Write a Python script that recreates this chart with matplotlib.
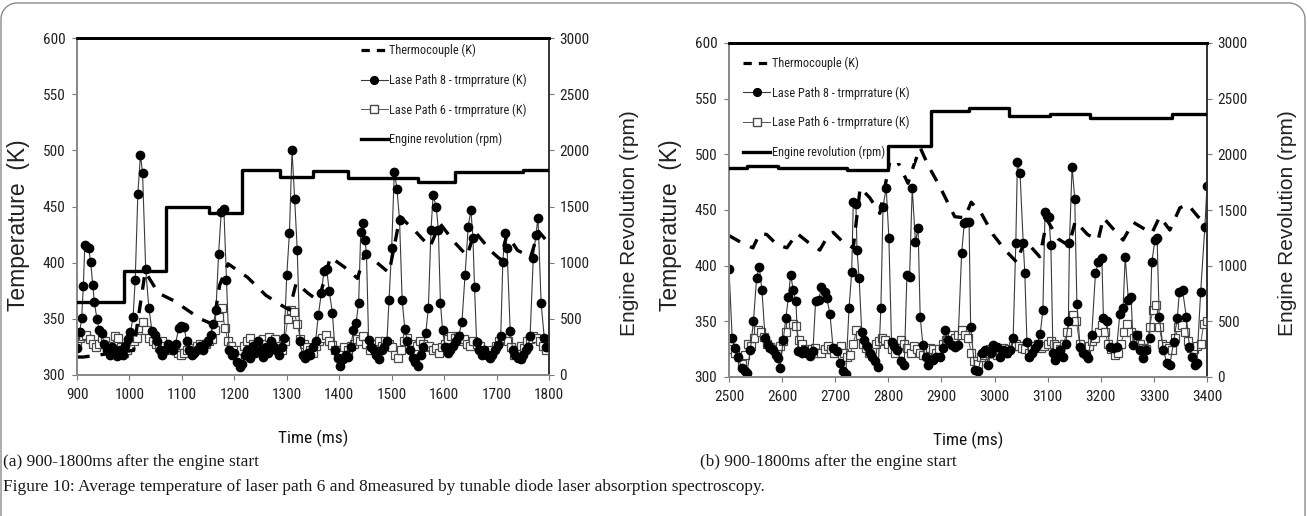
import numpy as np
import matplotlib
matplotlib.use("Agg")
import matplotlib.pyplot as plt
from matplotlib.lines import Line2D
from matplotlib import font_manager as fm
from matplotlib.font_manager import FontProperties

# ---------------- data : panel (a) ----------------
t8_a = [900, 905, 909, 912, 915, 919, 922, 926, 930, 933, 938, 942, 947, 952, 957, 962, 967, 972, 977, 982,
        987, 992, 997, 1002, 1007, 1011, 1016, 1021, 1025, 1031, 1037, 1043, 1048, 1053, 1058, 1063, 1068,
        1073, 1078, 1083, 1088, 1094, 1099, 1104, 1109, 1114, 1119, 1124, 1129, 1134, 1140, 1145, 1150, 1155,
        1160, 1165, 1170, 1175, 1180, 1185, 1190, 1195, 1200, 1205, 1210, 1215, 1220, 1225, 1230, 1235, 1240,
        1245, 1250, 1255, 1260, 1265, 1270, 1275, 1280, 1285, 1290, 1295, 1300, 1305, 1310, 1315, 1320, 1325,
        1330, 1335, 1340, 1345, 1350, 1355, 1360, 1366, 1371, 1376, 1381, 1387, 1392, 1397, 1402, 1407, 1412,
        1417, 1422, 1427, 1432, 1437, 1441, 1446, 1449, 1452, 1456, 1461, 1466, 1471, 1476, 1481, 1486, 1491,
        1495, 1500, 1505, 1510, 1515, 1520, 1525, 1530, 1535, 1540, 1545, 1550, 1555, 1560, 1565, 1570, 1575,
        1579, 1585, 1589, 1593, 1597, 1602, 1607, 1612, 1617, 1622, 1628, 1634, 1640, 1646, 1651, 1655, 1658,
        1662, 1667, 1672, 1677, 1682, 1687, 1692, 1697, 1703, 1708, 1712, 1716, 1720, 1726, 1731, 1736, 1741,
        1746, 1751, 1756, 1760, 1764, 1770, 1775, 1779, 1785, 1791, 1795, 1800]
T8_a = [324, 338, 351, 379, 416, 414, 413, 401, 380, 365, 350, 340, 337, 328, 322, 318, 325, 320, 317, 322,
        318, 326, 332, 338, 352, 385, 461, 496, 480, 394, 360, 339, 336, 330, 322, 318, 322,
        328, 325, 322, 328, 342, 344, 343, 330, 322, 318, 320, 322, 326, 322, 328, 330, 336,
        345, 358, 408, 445, 448, 385, 322, 318, 320, 312, 307, 310, 318, 322, 315, 326, 320,
        330, 322, 316, 325, 320, 330, 325, 322, 318, 325, 333, 389, 426, 500, 457, 411, 330,
        318, 315, 320, 318, 325, 330, 353, 373, 393, 394, 375, 355, 322, 315, 308, 314, 318,
        316, 325, 340, 346, 364, 427, 435, 420, 408, 331, 325, 322, 318, 314, 322, 325, 330,
        367, 413, 481, 466, 438, 367, 341, 330, 322, 315, 312, 308, 318, 325, 337, 360, 429,
        460, 450, 429, 364, 340, 325, 320, 322, 326, 330, 335, 347, 389, 432, 447, 422, 378,
        329, 322, 318, 322, 318, 315, 318, 322, 327, 335, 401, 426, 413, 339, 322, 318, 315,
        314, 318, 322, 325, 335, 404, 425, 440, 364, 333, 325, 325]

t6_a = [900, 906, 912, 918, 924, 930, 936, 942, 948, 954, 960, 966, 972, 978, 984, 990, 996, 1002, 1008, 1014,
        1020, 1026, 1032, 1038, 1044, 1050, 1056, 1062, 1068, 1074, 1080, 1086, 1092, 1098, 1104, 1110, 1116,
        1122, 1128, 1134, 1140, 1146, 1152, 1158, 1164, 1170, 1176, 1182, 1188, 1194, 1200, 1206, 1212, 1218,
        1224, 1230, 1236, 1242, 1248, 1254, 1260, 1266, 1272, 1278, 1284, 1290, 1296, 1302, 1308, 1314, 1320,
        1326, 1332, 1338, 1344, 1350, 1356, 1362, 1368, 1374, 1380, 1386, 1392, 1398, 1404, 1410, 1416, 1422,
        1428, 1434, 1440, 1446, 1452, 1458, 1464, 1470, 1476, 1482, 1488, 1494, 1500, 1506, 1512, 1518, 1524,
        1530, 1536, 1542, 1548, 1554, 1560, 1566, 1572, 1578, 1584, 1590, 1596, 1602, 1608, 1614, 1620, 1626,
        1632, 1638, 1644, 1650, 1656, 1662, 1668, 1674, 1680, 1686, 1692, 1698, 1704, 1710, 1716, 1722, 1728,
        1734, 1740, 1746, 1752, 1758, 1764, 1770, 1776, 1782, 1788, 1794, 1800]
T6_a = [330, 333, 335, 336, 332, 328, 325, 328, 333, 330, 326, 322, 335, 333, 325, 320, 322, 325, 330, 333,
        342, 347, 340, 333, 330, 328, 325, 330, 326, 322, 325, 322, 320, 318, 320, 322, 324,
        322, 326, 328, 325, 328, 330, 332, 340, 352, 360, 342, 330, 326, 322, 318, 322, 326,
        330, 333, 328, 326, 330, 332, 328, 334, 330, 332, 326, 322, 330, 350, 358, 356, 345,
        332, 328, 325, 322, 320, 326, 330, 333, 336, 330, 327, 322, 320, 322, 325, 322, 326,
        328, 332, 330, 335, 328, 322, 325, 328, 330, 326, 330, 328, 325, 318, 315, 322, 330,
        333, 328, 322, 326, 330, 328, 325, 326, 322, 324, 320, 325, 328, 332, 335, 333, 335,
        330, 332, 328, 326, 330, 328, 326, 322, 320, 318, 322, 326, 330, 332, 333, 330, 325,
        318, 322, 326, 324, 330, 332, 335, 333, 330, 326, 322, 325]

tc_t_a = [900, 912, 1008, 1015, 1030, 1055, 1085, 1110, 1135, 1160, 1172, 1188, 1225, 1260, 1290, 1305, 1318,
          1340, 1360, 1372, 1383, 1410, 1435, 1449, 1472, 1495, 1516, 1545, 1573, 1592, 1620, 1644, 1658,
          1690, 1707, 1720, 1740, 1765, 1780, 1800]
tc_T_a = [316, 316, 322, 345, 392, 373, 366, 358, 350, 345, 380, 399, 387, 371, 362, 358, 382,
          373, 366, 385, 405, 396, 386, 409, 400, 391, 441, 428, 414, 435, 418, 406, 428,
          410, 403, 425, 411, 405, 428, 417]

eng_t_a = [900, 990, 1070, 1152, 1215, 1287, 1350, 1417, 1551, 1621, 1751, 1800]
eng_rpm_a = [650, 930, 1500, 1445, 1825, 1765, 1815, 1755, 1720, 1808, 1828, 1828]

# ---------------- data : panel (b) ----------------
t8_b = [2500, 2506, 2511, 2517, 2524, 2530, 2534, 2540, 2546, 2552, 2557, 2562, 2568, 2573, 2578, 2583, 2588,
        2592, 2596, 2602, 2607, 2612, 2616, 2621, 2626, 2630, 2637, 2642, 2646, 2652, 2658, 2663, 2669, 2674,
        2680, 2684, 2690, 2696, 2703, 2709, 2715, 2720, 2726, 2731, 2734, 2739, 2741, 2745, 2750, 2755, 2760,
        2765, 2770, 2775, 2781, 2786, 2790, 2796, 2801, 2806, 2811, 2816, 2824, 2830, 2835, 2840, 2845, 2851,
        2856, 2860, 2865, 2870, 2875, 2880, 2884, 2890, 2897, 2902, 2906, 2913, 2919, 2925, 2931, 2938, 2943,
        2947, 2952, 2955, 2963, 2969, 2976, 2982, 2988, 2993, 2998, 3004, 3010, 3016, 3023, 3029, 3035, 3040,
        3043, 3048, 3054, 3057, 3061, 3065, 3070, 3076, 3081, 3086, 3091, 3095, 3099, 3102, 3106, 3110, 3114,
        3118, 3123, 3129, 3134, 3139, 3141, 3146, 3151, 3155, 3161, 3167, 3172, 3176, 3183, 3190, 3195, 3202,
        3205, 3211, 3217, 3223, 3230, 3236, 3242, 3246, 3252, 3257, 3261, 3268, 3274, 3280, 3286, 3292, 3296,
        3302, 3306, 3310, 3318, 3324, 3330, 3337, 3344, 3348, 3354, 3361, 3367, 3372, 3377, 3381, 3388, 3396,
        3400]
T8_b = [397, 335, 326, 318, 308, 305, 304, 324, 350, 389, 399, 378, 335, 329, 326, 324, 320,
        317, 308, 333, 353, 372, 392, 378, 368, 323, 322, 324, 322, 319, 323, 368, 369, 381,
        376, 371, 357, 326, 323, 313, 305, 303, 362, 394, 457, 455, 414, 389, 340, 333, 328,
        322, 318, 314, 309, 362, 453, 470, 425, 331, 328, 324, 314, 311, 392, 390, 470, 421,
        434, 354, 329, 318, 311, 315, 315, 318, 318, 326, 342, 333, 329, 327, 329, 411, 438,
        439, 439, 345, 306, 305, 322, 324, 311, 322, 329, 327, 318, 324, 322, 324, 335, 420,
        493, 483, 420, 393, 331, 318, 322, 326, 330, 339, 360, 448, 445, 444, 419, 322, 315,
        320, 324, 318, 330, 350, 420, 489, 460, 366, 327, 322, 320, 317, 338, 393, 403, 407,
        353, 350, 327, 326, 327, 357, 362, 408, 369, 372, 329, 338, 324, 317, 324, 335, 403,
        423, 425, 354, 324, 313, 311, 331, 353, 376, 378, 354, 327, 318, 311, 313, 376, 435,
        472]

t6_b = [2500, 2506, 2512, 2518, 2524, 2530, 2536, 2542, 2548, 2554, 2560, 2566, 2572, 2578, 2584, 2590, 2596,
        2602, 2608, 2614, 2620, 2626, 2632, 2638, 2644, 2650, 2656, 2662, 2668, 2674, 2680, 2686, 2692, 2698,
        2704, 2710, 2716, 2722, 2728, 2734, 2740, 2746, 2752, 2758, 2764, 2770, 2776, 2782, 2788, 2794, 2800,
        2806, 2812, 2818, 2824, 2830, 2836, 2842, 2848, 2854, 2860, 2866, 2872, 2878, 2884, 2890, 2896, 2902,
        2908, 2914, 2920, 2926, 2932, 2938, 2944, 2950, 2956, 2962, 2968, 2974, 2980, 2986, 2992, 2998, 3004,
        3010, 3016, 3022, 3028, 3034, 3040, 3046, 3052, 3058, 3064, 3070, 3076, 3082, 3088, 3094, 3100, 3106,
        3112, 3118, 3124, 3130, 3136, 3142, 3148, 3154, 3160, 3166, 3172, 3178, 3184, 3190, 3196, 3202, 3208,
        3214, 3220, 3226, 3232, 3238, 3244, 3250, 3256, 3262, 3268, 3274, 3280, 3286, 3292, 3298, 3304, 3310,
        3316, 3322, 3328, 3334, 3340, 3346, 3352, 3358, 3364, 3370, 3376, 3382, 3388, 3394, 3400]
T6_b = [328, 325, 322, 318, 312, 320, 330, 328, 335, 342, 340, 336, 330, 327, 325, 322, 328,
        332, 340, 348, 348, 346, 333, 330, 325, 322, 325, 326, 322, 322, 325, 328, 325, 322,
        326, 328, 322, 318, 320, 330, 342, 338, 330, 326, 322, 325, 330, 332, 335, 333, 330,
        325, 322, 328, 333, 330, 326, 322, 328, 325, 322, 320, 322, 326, 325, 322, 325, 330,
        333, 336, 338, 335, 338, 342, 338, 335, 322, 314, 312, 318, 320, 322, 325, 322, 320,
        324, 326, 322, 325, 328, 330, 328, 326, 325, 322, 326, 328, 330, 326, 328, 330, 332,
        330, 328, 325, 330, 340, 350, 356, 350, 330, 326, 322, 328, 332, 335, 340, 347, 340,
        330, 325, 320, 322, 330, 340, 348, 340, 335, 338, 330, 326, 325, 345, 360, 365, 345,
        330, 328, 326, 324, 335, 345, 347, 340, 332, 326, 325, 328, 330, 348, 350]

tc_t_b = [2500, 2526, 2545, 2558, 2571, 2590, 2609, 2628, 2649, 2671, 2684, 2696, 2715, 2734, 2747, 2765,
          2784, 2807, 2822, 2837, 2847, 2860, 2875, 2897, 2925, 2944, 2956, 2975, 2997, 3020, 3042, 3057,
          3085, 3099, 3120, 3140, 3152, 3175, 3195, 3205, 3242, 3261, 3296, 3311, 3330, 3349, 3364, 3383,
          3400]
tc_T_b = [427, 420, 416, 429, 428, 419, 416, 429, 421, 414, 425, 430, 421, 416, 470, 461,
          447, 504, 489, 474, 489, 506, 490, 471, 444, 443, 457, 447, 428, 414, 403, 423,
          408, 441, 424, 418, 440, 428, 423, 443, 423, 439, 429, 444, 432, 452, 455, 444,
          438]

eng_t_b = [2500, 2534, 2592, 2722, 2800, 2880, 2952, 3027, 3104, 3180, 3334, 3400]
eng_rpm_b = [1878, 1896, 1878, 1862, 2075, 2385, 2420, 2345, 2363, 2327, 2363, 2363]

xticks_a = [900, 1000, 1100, 1200, 1300, 1400, 1500, 1600, 1700, 1800]
xticks_b = [2500, 2600, 2700, 2800, 2900, 3000, 3100, 3200, 3300, 3400]
yticks_T = [300, 350, 400, 450, 500, 550, 600]
yticks_rpm = [0, 500, 1000, 1500, 2000, 2500, 3000]

legend_labels = ["Thermocouple (K)", "Lase Path 8 - trmprrature (K)",
                 "Lase Path 6 - trmprrature (K)", "Engine revolution (rpm)"]


# ---------------- fonts ----------------
def find_narrow():
    best, best_score = None, -1
    for f in fm.fontManager.ttflist:
        name = f.name.lower()
        path = f.fname.lower()
        key = name + " " + path
        if any(w in path for w in ("bold", "italic", "oblique", "mono", "light", "thin", "black", "semi", "medium")):
            continue
        if "serif" in name and "sans" not in name:
            continue
        stretch = f.stretch
        narrow = ("narrow" in key) or ("condensed" in key) or (isinstance(stretch, str) and "condensed" in stretch)
        if not narrow:
            continue
        score = 1
        if "liberation" in key and "narrow" in key:
            score = 5
        elif "open sans" in name or "opensans" in path:
            score = 4
        elif "roboto" in key:
            score = 4
        elif "noto sans" in name:
            score = 3
        elif "dejavu" in key:
            score = 2
        if score > best_score:
            best, best_score = f.fname, score
    return best, best_score


NARROW_PATH, NARROW_SCORE = find_narrow()


def narrow_fp(size):
    if NARROW_PATH is not None:
        return FontProperties(fname=NARROW_PATH, size=size)
    return FontProperties(family=["DejaVu Sans"], size=size * 0.85)


WIDE = ["Liberation Sans", "DejaVu Sans"]
SERIF = ["Liberation Serif", "DejaVu Serif"]

# ---------------- figure ----------------
W, H = 1307, 516
fig = plt.figure(figsize=(W / 100, H / 100), dpi=100)
fig.patch.set_facecolor("white")

# rounded page frame (top corners only visible)
r = 16.0
ang1 = np.linspace(np.pi, np.pi / 2, 20)
ang2 = np.linspace(np.pi / 2, 0, 20)
fx = np.concatenate([[1.0], 1.0 + r + r * np.cos(ang1), W - 2.0 - r + r * np.cos(ang2), [W - 2.0]])
fy = np.concatenate([[H + 5], 3.0 + r - r * np.sin(ang1), 3.0 + r - r * np.sin(ang2), [H + 5]])
fig.add_artist(Line2D(fx / W, 1 - fy / H, transform=fig.transFigure, color="#8c8c8c", lw=1.0))


def px_rect(x0, y0, x1, y1):
    return [x0 / W, 1 - y1 / H, (x1 - x0) / W, (y1 - y0) / H]


def panel(rect, t8, T8, t6, T6, tct, tcT, et, erpm, xticks, xlim, legend_anchor, ly_left, ly_right):
    ax = fig.add_axes(rect)
    ax.set_xlim(*xlim)
    ax.set_ylim(300, 600)
    ax2 = ax.twinx()
    ax2.set_ylim(0, 3000)

    ax.plot(t6, T6, color="#555555", lw=0.7, marker="s", ms=5.4, mfc="white", mec="#4a4a4a",
            mew=0.9, zorder=3)
    ax.plot(t8, T8, color="#3a3a3a", lw=0.8, marker="o", ms=6.0, mfc="black", mec="black",
            zorder=4)
    ax.plot(tct, tcT, color="black", lw=2.4, dashes=(3.8, 3.3), zorder=5)
    ax2.plot(et, erpm, color="black", lw=2.4, drawstyle="steps-post", zorder=12)

    ax.set_xticks(xticks)
    ax.set_yticks(yticks_T)
    ax2.set_yticks(yticks_rpm)
    tfp = narrow_fp(11)
    for a in (ax, ax2):
        a.tick_params(direction="out", length=3.5, width=0.8, color="#777777", labelcolor="#222222")
        for lab in a.get_xticklabels() + a.get_yticklabels():
            lab.set_fontproperties(tfp)
    ax.tick_params(axis="x", pad=6)
    ax.tick_params(axis="y", pad=5)
    ax2.tick_params(axis="y", pad=4)

    for a in (ax, ax2):
        a.spines["top"].set_color("black")
        a.spines["top"].set_linewidth(2.0)
        a.spines["left"].set_color("#8a8a8a")
        a.spines["left"].set_linewidth(1.4)
        a.spines["bottom"].set_color("#8a8a8a")
        a.spines["bottom"].set_linewidth(1.4)
        a.spines["right"].set_color("#333333")
        a.spines["right"].set_linewidth(1.2)

    ax.set_ylabel("Temperature  (K)", family=WIDE, fontsize=16.5, color="#222222", labelpad=9, y=ly_left)
    ax2.set_ylabel("Engine Revolution (rpm)", family=WIDE, fontsize=15, color="#222222", labelpad=22,
                   y=ly_right)
    xl = ax.set_xlabel("Time (ms)", color="#111111", labelpad=20)
    xl.set_fontproperties(narrow_fp(12.5))

    handles = [
        Line2D([], [], color="black", lw=2.3, dashes=(2.6, 2.2)),
        Line2D([], [], color="#3a3a3a", lw=0.8, marker="o", ms=5.6, mfc="black", mec="black"),
        Line2D([], [], color="#555555", lw=0.7, marker="s", ms=5.2, mfc="white", mec="#4a4a4a"),
        Line2D([], [], color="black", lw=2.4),
    ]
    leg = ax2.legend(handles, legend_labels, loc="upper left", bbox_to_anchor=legend_anchor,
                     prop=narrow_fp(8.8), frameon=True, facecolor="white", borderaxespad=0.0,
                     edgecolor="none", framealpha=1.0, fancybox=False, handlelength=2.2,
                     handletextpad=0.15, labelspacing=1.32, borderpad=0.35)
    for txt in leg.get_texts():
        txt.set_color("#222222")
    leg.set_zorder(10)
    return ax, ax2


panel(px_rect(77, 38, 549, 375), t8_a, T8_a, t6_a, T6_a, tc_t_a, tc_T_a, eng_t_a, eng_rpm_a,
      xticks_a, (900, 1800), (0.592, 0.995), 0.445, 0.45)
panel(px_rect(729, 43, 1207, 377), t8_b, T8_b, t6_b, T6_b, tc_t_b, tc_T_b, eng_t_b, eng_rpm_b,
      xticks_b, (2500, 3400), (0.021, 0.972), 0.455, 0.46)

fig.text(3 / W, 1 - 462 / H, "(a) 900-1800ms after the engine start", family=SERIF, fontsize=12.4,
         color="#1a1a1a", va="center", ha="left")
fig.text(700 / W, 1 - 462 / H, "(b) 900-1800ms after the engine start", family=SERIF, fontsize=12.4,
         color="#1a1a1a", va="center", ha="left")
fig.text(3 / W, 1 - 487 / H,
         "Figure 10: Average temperature of laser path 6 and 8measured by tunable diode laser absorption spectroscopy.",
         family=SERIF, fontsize=12.4, color="#1a1a1a", va="center", ha="left")

fig.savefig("out.png", dpi=100, facecolor="white")
